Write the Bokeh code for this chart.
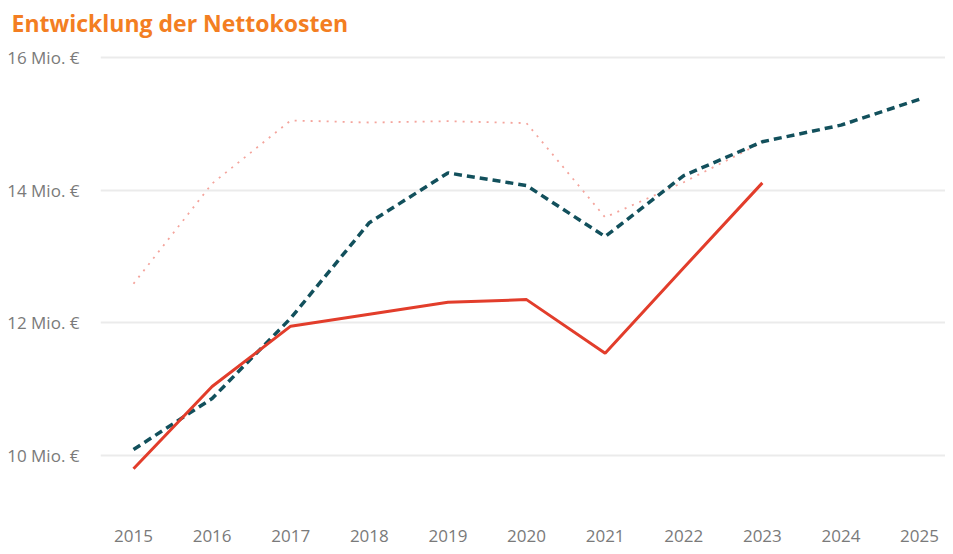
from bokeh.plotting import figure
from bokeh.models import Range1d, FixedTicker, CustomJSTickFormatter
from bokeh.embed import file_html
from bokeh.resources import INLINE

years = [2015, 2016, 2017, 2018, 2019, 2020, 2021, 2022, 2023, 2024, 2025]
ist = [9.80, 11.04, 11.95, 12.13, 12.31, 12.35, 11.54, 12.83, 14.11]
plan = [10.09, 10.86, 12.07, 13.51, 14.26, 14.07, 13.30, 14.22, 14.73, 14.98, 15.37]
vorjahr = [12.59, 14.10, 15.05, 15.02, 15.04, 15.01, 13.59, 14.12, 14.72]
y_ticks = [10, 12, 14, 16]

p = figure(width=945, height=546, output_backend="svg", toolbar_location=None,
           x_range=Range1d(2014.58, 2025.33), y_range=Range1d(9.0955, 16.226),
           min_border_left=100, min_border_right=0, min_border_bottom=31, min_border_top=0)

p.title.text = "Entwicklung der Nettokosten"
p.title.text_color = "#F37E22"
p.title.text_font = "Open Sans"
p.title.text_font_size = "23px"
p.title.text_font_style = "bold"
p.title.offset = -89
p.title.standoff = 8

p.outline_line_color = None
p.background_fill_color = "white"
p.border_fill_color = "white"

p.xgrid.grid_line_color = None
p.ygrid.grid_line_color = "#EBEBEB"
p.ygrid.grid_line_width = 2

p.yaxis.ticker = FixedTicker(ticks=y_ticks)
p.yaxis.formatter = CustomJSTickFormatter(code="return tick + ' Mio. €';")
p.xaxis.ticker = FixedTicker(ticks=years)
p.xaxis.formatter = CustomJSTickFormatter(code="return tick.toString();")
for ax in (p.xaxis, p.yaxis):
    ax.axis_line_color = None
    ax.major_tick_line_color = None
    ax.minor_tick_line_color = None
    ax.major_label_text_color = "#7A7A7A"
    ax.major_label_text_font = "Open Sans"
    ax.major_label_text_font_size = "17px"
p.yaxis.major_label_standoff = 15
p.xaxis.major_label_standoff = 8

p.line(years[:len(vorjahr)], vorjahr, line_color="#F4A49C", line_width=1.8, line_dash="2 6")
p.line(years, plan, line_color="#12505C", line_width=3.5, line_dash="8 5")
p.line(years[:len(ist)], ist, line_color="#E23D2B", line_width=3)

open("out.html", "w").write(file_html(p, INLINE))
